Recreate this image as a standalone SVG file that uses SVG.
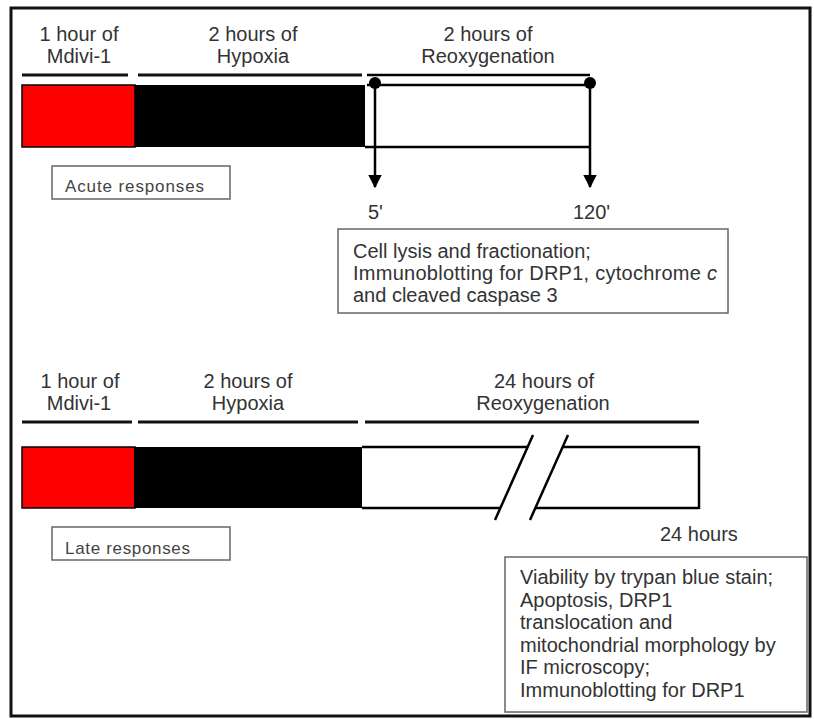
<svg xmlns="http://www.w3.org/2000/svg" width="814" height="719" viewBox="0 0 814 719">
<defs>
<style>
.lbl{font-family:"Liberation Sans",Arial,sans-serif;font-size:20px;fill:#333;text-anchor:middle}
.txt{font-family:"Liberation Sans",Arial,sans-serif;font-size:20px;fill:#333}
.tag{font-family:"Liberation Sans",Arial,sans-serif;font-size:17px;fill:#444}
.rule{stroke:#111;stroke-width:3;fill:none}
.box{fill:#fff;stroke:#666;stroke-width:1.5}
.ln{stroke:#000;stroke-width:2.5;fill:none}
</style>
<marker id="arr" viewBox="0 0 10 10" refX="9" refY="5" markerWidth="5.6" markerHeight="5.4" markerUnits="strokeWidth" orient="auto">
<path d="M0,0 L10,5 L0,10 Z" fill="#000"/>
</marker>
</defs>
<rect x="0" y="0" width="814" height="719" fill="#fff"/>
<rect x="11" y="8" width="799" height="708" fill="none" stroke="#111" stroke-width="3"/>

<!-- Acute section -->
<g id="acute-labels">
<text class="lbl" x="79" y="41">1 hour of</text>
<text class="lbl" x="79" y="63">Mdivi-1</text>
<text class="lbl" x="253" y="41">2 hours of</text>
<text class="lbl" x="253" y="63">Hypoxia</text>
<text class="lbl" x="488" y="41">2 hours of</text>
<text class="lbl" x="488" y="63">Reoxygenation</text>
<line class="rule" x1="22" y1="75" x2="128" y2="75"/>
<line class="rule" x1="138" y1="75" x2="362" y2="75"/>
</g>
<g id="acute-mdivi"><rect x="22" y="85" width="113" height="62" fill="#ff0000" stroke="#000" stroke-width="1.5"/></g>
<g id="acute-hypoxia"><rect x="135" y="85" width="230" height="62" fill="#000"/></g>
<g id="acute-reox">
<line class="ln" x1="367" y1="75" x2="590" y2="75"/>
<line class="ln" x1="367" y1="85" x2="590" y2="85"/>
<line class="ln" x1="365" y1="147" x2="590" y2="147"/>
</g>
<g id="connectors">
<circle cx="375" cy="83" r="6" fill="#000"/>
<circle cx="590" cy="83" r="6" fill="#000"/>
<line x1="375" y1="83" x2="375" y2="187" stroke="#000" stroke-width="2.5" marker-end="url(#arr)"/>
<line x1="590" y1="83" x2="590" y2="187" stroke="#000" stroke-width="2.5" marker-end="url(#arr)"/>
</g>
<g id="acute-tag">
<rect class="box" x="52" y="166" width="178" height="33"/>
<text class="tag" x="65" y="192" textLength="139">Acute responses</text>
</g>
<g id="acute-times">
<text class="txt" x="368" y="219" font-size="19">5'</text>
<text class="txt" x="573" y="219" font-size="19">120'</text>
</g>
<g id="acute-box">
<rect class="box" x="338" y="229" width="390" height="84"/>
<text class="txt" x="353" y="258">Cell lysis and fractionation;</text>
<text class="txt" x="353" y="280" textLength="364">Immunoblotting for DRP1, cytochrome <tspan font-style="italic">c</tspan></text>
<text class="txt" x="353" y="302">and cleaved caspase 3</text>
</g>

<!-- Late section -->
<g id="late-labels">
<text class="lbl" x="80" y="388">1 hour of</text>
<text class="lbl" x="79" y="410">Mdivi-1</text>
<text class="lbl" x="248" y="388">2 hours of</text>
<text class="lbl" x="248" y="410">Hypoxia</text>
<text class="lbl" x="544" y="388">24 hours of</text>
<text class="lbl" x="543" y="410">Reoxygenation</text>
<line class="rule" x1="22" y1="422" x2="132" y2="422"/>
<line class="rule" x1="138" y1="422" x2="358" y2="422"/>
<line class="rule" x1="365" y1="422" x2="699" y2="422"/>
</g>
<g id="late-mdivi"><rect x="22" y="447" width="113" height="61" fill="#ff0000" stroke="#000" stroke-width="1.5"/></g>
<g id="late-hypoxia"><rect x="134" y="447" width="228" height="61" fill="#000"/></g>
<g id="late-reox">
<line class="ln" x1="362" y1="447" x2="527.6" y2="447"/>
<line class="ln" x1="562.6" y1="447" x2="699" y2="447"/>
<line class="ln" x1="362" y1="508" x2="500.4" y2="508"/>
<line class="ln" x1="535.4" y1="508" x2="699" y2="508"/>
<line class="ln" x1="699" y1="446" x2="699" y2="509"/>
<line class="ln" x1="495" y1="520" x2="533" y2="435"/>
<line class="ln" x1="530" y1="520" x2="568" y2="435"/>
</g>
<g id="late-time"><text class="txt" x="660" y="541">24 hours</text></g>
<g id="late-tag">
<rect class="box" x="52" y="527" width="178" height="33"/>
<text class="tag" x="65" y="554" textLength="125">Late responses</text>
</g>
<g id="late-box">
<rect class="box" x="505" y="557" width="302" height="155"/>
<text class="txt" x="520" y="584">Viability by trypan blue stain;</text>
<text class="txt" x="520" y="607">Apoptosis, DRP1</text>
<text class="txt" x="520" y="629">translocation and</text>
<text class="txt" x="520" y="652">mitochondrial morphology by</text>
<text class="txt" x="520" y="674">IF microscopy;</text>
<text class="txt" x="520" y="697">Immunoblotting for DRP1</text>
</g>
</svg>
